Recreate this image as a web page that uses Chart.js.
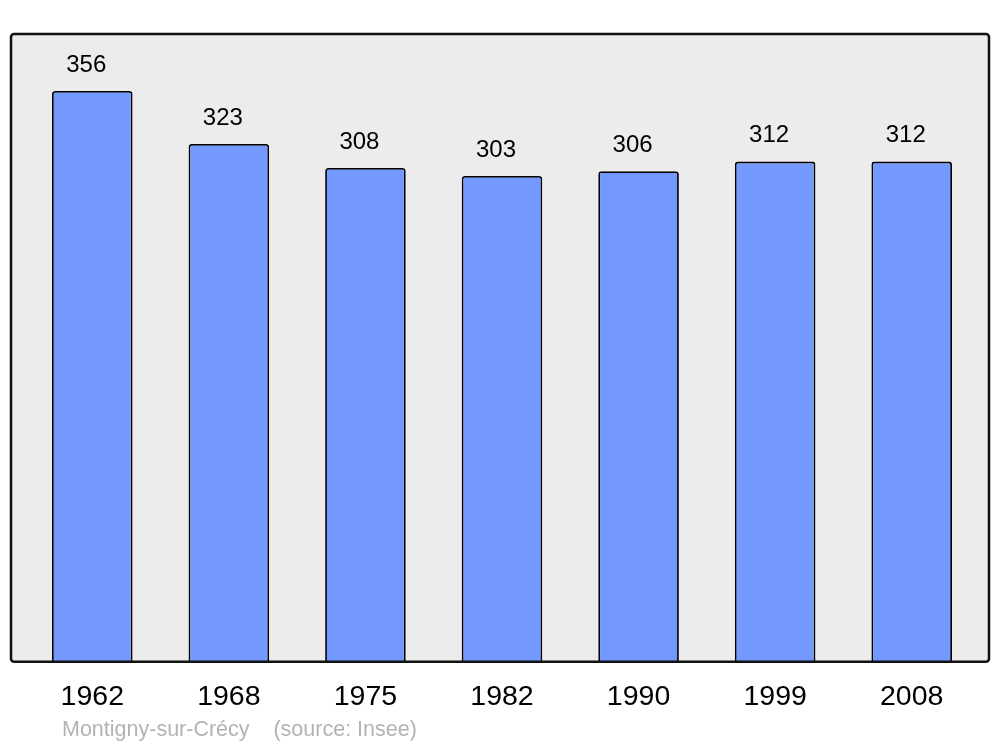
<!DOCTYPE html>
<html>
<head>
<meta charset="utf-8">
<script src="https://cdn.jsdelivr.net/npm/chart.js@4"></script>
<style>
  body { margin: 0; background: #fff; }
  canvas { display: block; }
</style>
</head>
<body>
<canvas id="grafico" width="1000" height="747"></canvas>
<script>
// Datos de población
const annees = ["1962", "1968", "1975", "1982", "1990", "1999", "2008"];
const population = [356, 323, 308, 303, 306, 312, 312];
const source = "Montigny-sur-Crécy    (source: Insee)";

const fuente = '"Liberation Sans", Arial, sans-serif';

// Marco gris con borde negro
const marco = {
    id: 'marco',
    beforeDatasetsDraw(chart) {
        const a = chart.chartArea;
        const ctx = chart.ctx;
        ctx.save();
        ctx.beginPath();
        ctx.roundRect(a.left - 13, a.top, a.right - a.left + 22, a.bottom - a.top, 3);
        ctx.fillStyle = '#ececec';
        ctx.fill();
        ctx.restore();
    },
    afterDatasetsDraw(chart) {
        const a = chart.chartArea;
        const ctx = chart.ctx;
        ctx.save();
        ctx.beginPath();
        ctx.roundRect(a.left - 13, a.top, a.right - a.left + 22, a.bottom - a.top, 3);
        ctx.lineWidth = 2.5;
        ctx.strokeStyle = '#111';
        ctx.stroke();

        // valores encima de las barras
        ctx.font = '24px ' + fuente;
        ctx.fillStyle = '#000';
        ctx.textAlign = 'center';
        ctx.textBaseline = 'middle';
        chart.getDatasetMeta(0).data.forEach((bar, i) => {
            ctx.fillText(String(population[i]), bar.x - 6, bar.y - 26);
        });

        // fuente
        ctx.font = '21.5px ' + fuente;
        ctx.fillStyle = '#b3b3b3';
        ctx.textAlign = 'left';
        ctx.fillText(source, 62, 730);
        ctx.restore();
    }
};

const ctx = document.getElementById('grafico').getContext('2d');
new Chart(ctx, {
    type: 'bar',
    data: {
        labels: annees,
        datasets: [{
            data: population,
            backgroundColor: '#7399ff',
            borderColor: '#000',
            borderWidth: 1.8,
            borderSkipped: 'bottom',
            borderRadius: { topLeft: 3, topRight: 3 },
            barPercentage: 0.59,
            categoryPercentage: 1
        }]
    },
    options: {
        responsive: false,
        animation: false,
        layout: { padding: { left: 24, right: 20, top: 34, bottom: 15 } },
        plugins: { legend: { display: false }, tooltip: { enabled: false } },
        scales: {
            x: {
                grid: { display: false, drawTicks: false },
                border: { display: false },
                ticks: { color: '#000', font: { size: 28.5, family: fuente }, padding: 18 }
            },
            y: { display: false, min: 0, max: 356 * 1.1 }
        }
    },
    plugins: [marco]
});
</script>
</body>
</html>
